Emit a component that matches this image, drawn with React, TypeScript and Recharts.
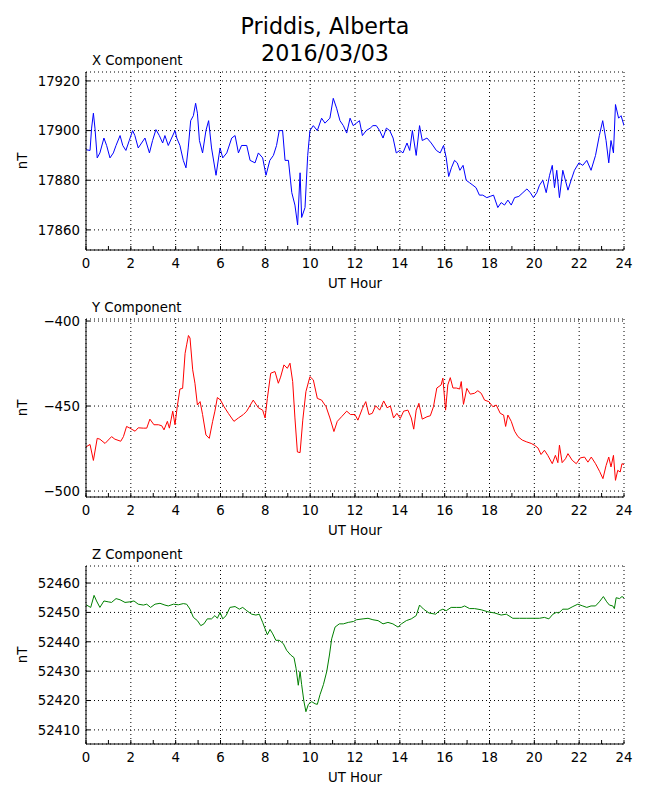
import React from "react";
import { LineChart, Line, XAxis, YAxis, CartesianGrid } from "recharts";

const FONT = "'DejaVu Sans', sans-serif";

// UT hour ticks: minor every hour, labels and grid every two
const hourTicks = Array.from({ length: 25 }, (_, i) => i);
const gridHours = [0, 2, 4, 6, 8, 10, 12, 14, 16, 18, 20, 22, 24];

const xTicks = [17860, 17880, 17900, 17920];
const yTicks = [-500, -450, -400];
const zTicks = [52410, 52420, 52430, 52440, 52450, 52460];

// [UT hour, nT]
const xComponent: [number, number][] = [
  [0, 17892.3], [0.18, 17892], [0.25, 17901], [0.33, 17907], [0.4, 17901], [0.5, 17889], [0.62, 17891],
  [0.8, 17897], [0.92, 17894], [1.07, 17889], [1.22, 17891], [1.34, 17894], [1.52, 17898], [1.64, 17894],
  [1.78, 17892], [1.93, 17896], [2.08, 17900], [2.18, 17898], [2.33, 17893], [2.48, 17895], [2.63, 17897],
  [2.83, 17891], [2.97, 17896], [3.12, 17900.4], [3.27, 17898], [3.42, 17895], [3.52, 17898], [3.67, 17894],
  [3.82, 17897], [3.97, 17900], [4.05, 17897], [4.19, 17894], [4.34, 17888], [4.46, 17885], [4.56, 17893],
  [4.67, 17904], [4.79, 17906], [4.89, 17911], [4.97, 17907], [5.06, 17896], [5.2, 17891], [5.35, 17900],
  [5.47, 17904], [5.6, 17893], [5.8, 17882], [5.98, 17893], [6.1, 17889], [6.28, 17891], [6.5, 17897],
  [6.65, 17898], [6.8, 17891], [6.94, 17894], [7.17, 17894], [7.32, 17888], [7.54, 17887], [7.69, 17891],
  [7.88, 17889], [8.03, 17882], [8.2, 17888], [8.36, 17890], [8.5, 17894], [8.62, 17900], [8.77, 17900],
  [8.88, 17888], [9.03, 17888], [9.18, 17875], [9.32, 17870], [9.44, 17862], [9.55, 17883], [9.62, 17865],
  [9.77, 17869], [9.89, 17890], [9.99, 17900], [10.14, 17902], [10.32, 17900], [10.51, 17905], [10.66, 17903],
  [10.88, 17905], [11.03, 17913], [11.18, 17909], [11.33, 17904], [11.48, 17902], [11.63, 17899], [11.78, 17905],
  [11.92, 17902], [12.06, 17903], [12.2, 17904], [12.33, 17898], [12.5, 17900], [12.68, 17901], [12.8, 17902],
  [12.95, 17902], [13.1, 17900], [13.25, 17897], [13.4, 17901], [13.55, 17900], [13.7, 17897], [13.84, 17891],
  [14.0, 17892], [14.14, 17891], [14.32, 17895], [14.44, 17892], [14.56, 17900], [14.73, 17890], [14.88, 17902],
  [15.0, 17896], [15.21, 17897], [15.4, 17895], [15.63, 17892], [15.8, 17891], [15.95, 17894], [16.07, 17889],
  [16.18, 17881.5], [16.3, 17885], [16.44, 17888], [16.56, 17887], [16.68, 17884], [16.82, 17886], [16.96, 17880],
  [17.11, 17879], [17.26, 17878], [17.4, 17877], [17.55, 17874], [17.7, 17874], [17.88, 17873], [18.03, 17873.5],
  [18.18, 17874], [18.37, 17869], [18.52, 17871], [18.67, 17870], [18.82, 17872], [18.97, 17870], [19.12, 17873],
  [19.31, 17873.5], [19.49, 17875], [19.67, 17876.5], [19.82, 17875], [19.96, 17873], [20.11, 17875], [20.23, 17878],
  [20.38, 17880], [20.53, 17875], [20.68, 17882], [20.8, 17886], [20.9, 17877], [21.0, 17884], [21.12, 17873],
  [21.27, 17884], [21.5, 17876], [21.64, 17880], [21.79, 17884], [21.99, 17887], [22.16, 17886], [22.34, 17888],
  [22.53, 17884], [22.73, 17890], [22.9, 17898], [23.05, 17904], [23.2, 17896], [23.32, 17887], [23.42, 17896],
  [23.53, 17891], [23.62, 17910.5], [23.76, 17905], [23.87, 17906], [24.0, 17902],
];

const yComponent: [number, number][] = [
  [0, -474], [0.18, -472.6], [0.33, -482], [0.5, -469], [0.62, -469.5], [0.85, -472], [1.14, -468],
  [1.29, -469.5], [1.55, -470.7], [1.67, -468], [1.81, -462], [1.96, -463], [2.19, -464.8], [2.33, -462.8],
  [2.56, -463], [2.71, -463], [2.85, -457.7], [3.03, -461], [3.23, -461], [3.38, -461.6], [3.48, -464],
  [3.63, -459], [3.72, -463], [3.87, -453], [3.97, -461], [4.07, -450.4], [4.19, -440], [4.31, -439.6],
  [4.42, -419], [4.49, -414], [4.57, -408.5], [4.64, -410], [4.76, -428.7], [4.86, -436.6], [4.97, -449.4],
  [5.09, -447.4], [5.2, -455], [5.35, -467], [5.5, -469], [5.65, -459], [5.75, -453], [5.86, -445],
  [6.0, -446.5], [6.16, -450.4], [6.35, -454.3], [6.6, -459], [6.8, -457], [7.02, -455], [7.17, -453],
  [7.46, -446.5], [7.69, -451], [7.88, -452.4], [7.99, -457], [8.09, -445.5], [8.24, -430.7], [8.43, -429.7],
  [8.58, -436.6], [8.68, -433], [8.83, -425.8], [8.98, -427.8], [9.1, -424.8], [9.22, -435.6], [9.32, -457],
  [9.43, -477], [9.55, -477.4], [9.67, -458.3], [9.81, -441.5], [9.99, -432.7], [10.14, -434.6], [10.32, -445.5],
  [10.51, -446.5], [10.71, -450.4], [10.88, -457], [11.06, -465], [11.21, -459], [11.4, -456.3], [11.63, -453],
  [11.8, -455], [12.0, -455], [12.13, -458.3], [12.33, -451.4], [12.48, -447.4], [12.62, -455], [12.77, -454.3],
  [12.92, -449.8], [13.1, -452.4], [13.28, -447], [13.43, -451], [13.58, -450], [13.72, -457], [13.87, -454.3],
  [14.02, -457.3], [14.17, -453], [14.36, -452.4], [14.51, -457], [14.62, -463.6], [14.73, -452.4], [14.85, -448.4],
  [15.0, -457.7], [15.21, -456.3], [15.36, -455.7], [15.5, -450.4], [15.65, -439.4], [15.84, -437.6], [15.92, -433.6],
  [16.04, -452.4], [16.14, -437.6], [16.25, -433.3], [16.37, -439.4], [16.52, -439.4], [16.67, -440], [16.74, -435.6],
  [16.84, -449], [16.99, -439.6], [17.14, -443], [17.33, -442.5], [17.48, -441], [17.63, -442.5], [17.78, -446.5],
  [17.97, -447.4], [18.15, -450.4], [18.3, -449.4], [18.48, -454.3], [18.63, -455.3], [18.72, -462], [18.82, -455.3],
  [18.97, -459], [19.12, -464.8], [19.27, -468], [19.46, -470], [19.64, -471], [19.86, -472], [20.0, -473],
  [20.16, -474.6], [20.3, -478.5], [20.45, -476], [20.6, -479], [20.8, -483.9], [20.94, -479], [21.05, -483.3],
  [21.12, -473], [21.24, -483.3], [21.39, -481], [21.5, -478], [21.69, -481.9], [21.87, -483.9], [22.05, -480.5],
  [22.24, -480], [22.39, -483], [22.54, -480], [22.73, -483.9], [22.91, -488.4], [23.06, -492.7], [23.2, -485],
  [23.32, -480], [23.42, -485.8], [23.53, -479], [23.62, -493.7], [23.72, -487.8], [23.83, -488.8], [23.91, -483.9],
  [24.0, -484.4],
];

const zComponent: [number, number][] = [
  [0, 52452.6], [0.21, 52451.7], [0.36, 52455.8], [0.47, 52453.9], [0.62, 52451.7], [0.8, 52453.9], [0.99, 52453.6],
  [1.14, 52453.4], [1.34, 52454.7], [1.52, 52454.3], [1.74, 52453.4], [1.96, 52453.6], [2.14, 52453.9], [2.33, 52452.8],
  [2.56, 52452.5], [2.71, 52452.8], [2.88, 52451.7], [3.08, 52452.8], [3.3, 52453.1], [3.52, 52452.5], [3.67, 52452.2],
  [3.9, 52452.8], [4.12, 52452.6], [4.34, 52453.0], [4.49, 52452.8], [4.64, 52451.1], [4.79, 52448.3], [4.97, 52447.2],
  [5.12, 52445.5], [5.26, 52446.1], [5.41, 52447.8], [5.6, 52447.8], [5.75, 52448.9], [5.86, 52448], [5.98, 52450],
  [6.1, 52447.8], [6.25, 52448.9], [6.42, 52451.7], [6.65, 52452], [6.84, 52451.1], [6.99, 52451.7], [7.17, 52450.6],
  [7.39, 52449.4], [7.58, 52449.1], [7.73, 52449.4], [7.88, 52446.6], [7.99, 52444.4], [8.09, 52442.4], [8.21, 52444.2],
  [8.33, 52442.7], [8.47, 52440.5], [8.62, 52440.5], [8.8, 52439.4], [8.95, 52437.1], [9.13, 52435.5], [9.28, 52434.6],
  [9.37, 52431], [9.47, 52425.2], [9.55, 52429.9], [9.62, 52425.4], [9.72, 52419.8], [9.81, 52416.2], [9.92, 52418.7],
  [10.07, 52419.6], [10.22, 52418.9], [10.32, 52418.7], [10.44, 52422], [10.59, 52425.4], [10.74, 52429.9],
  [10.86, 52435.5], [10.96, 52441], [11.11, 52445], [11.3, 52446.1], [11.48, 52446.1], [11.7, 52446.6],
  [11.93, 52446.9], [12.06, 52447.5], [12.36, 52447.8], [12.58, 52448], [12.8, 52447.5], [13.03, 52447.2],
  [13.25, 52446.1], [13.47, 52446.6], [13.69, 52446.1], [13.92, 52445], [14.07, 52446.1], [14.29, 52447.2],
  [14.51, 52447.8], [14.73, 52448.9], [14.88, 52452.5], [15.06, 52451.1], [15.3, 52449.8], [15.6, 52449.4],
  [15.77, 52450.6], [15.92, 52451.1], [16.07, 52450.6], [16.29, 52451.7], [16.52, 52451.7], [16.74, 52451.7],
  [16.89, 52452.2], [17.11, 52451.3], [17.33, 52451.3], [17.63, 52450.9], [17.93, 52450.2], [18.23, 52449.8],
  [18.52, 52449.1], [18.75, 52449.4], [19.04, 52448], [19.34, 52448], [19.64, 52448], [19.94, 52448],
  [20.23, 52448], [20.45, 52448.3], [20.65, 52447.8], [20.83, 52449.4], [20.98, 52450], [21.09, 52449.8],
  [21.27, 52451.1], [21.5, 52451.1], [21.72, 52452], [21.94, 52452.8], [22.16, 52452.2], [22.34, 52451.7],
  [22.53, 52452.2], [22.73, 52452.2], [22.9, 52453.6], [23.08, 52455.4], [23.23, 52453.6], [23.35, 52452.5],
  [23.5, 52452.2], [23.57, 52451.3], [23.65, 52455], [23.8, 52454.7], [23.91, 52455.4], [24.0, 52455],
];

const PLOT_LEFT = 86;
const PLOT_WIDTH = 538;

const fmt = (v: number) => (v < 0 ? "\u2212" + Math.abs(v) : String(v));
const tickStyle = { fill: "#000", fontSize: 13.3, fontFamily: FONT };
const gridX = gridHours.map((h) => PLOT_LEFT + (h / 24) * PLOT_WIDTH);

function Panel({ series, domain, ticks, color, top }: any) {
  const data = series.map(([h, v]: [number, number]) => ({ h, v }));
  return (
    <div style={{ position: "absolute", left: 0, top }}>
      <LineChart width={650} height={300} data={data} margin={{ top: 72, right: 26, bottom: 0, left: 26 }}>
        <CartesianGrid stroke="#000" strokeDasharray="1 3" verticalPoints={gridX} />
        <XAxis
          dataKey="h"
          type="number"
          domain={[0, 24]}
          ticks={hourTicks}
          interval={0}
          allowDataOverflow
          height={50}
          stroke="#000"
          tickSize={-4}
          tickMargin={13}
          tick={tickStyle}
          tickFormatter={(h: number) => (h % 2 === 0 ? String(h) : "")}
        />
        <XAxis
          xAxisId="top"
          orientation="top"
          type="number"
          domain={[0, 24]}
          ticks={hourTicks}
          interval={0}
          height={0}
          stroke="#000"
          tickSize={-4}
          tick={false}
        />
        <YAxis
          type="number"
          domain={domain}
          ticks={ticks}
          interval={0}
          allowDataOverflow
          width={60}
          stroke="#000"
          tickSize={-4}
          tickMargin={10}
          tick={tickStyle}
          tickFormatter={fmt}
        />
        <YAxis
          yAxisId="right"
          orientation="right"
          type="number"
          domain={domain}
          ticks={ticks}
          interval={0}
          allowDataOverflow
          width={0}
          stroke="#000"
          tickSize={-4}
          tick={false}
        />
        <Line
          dataKey="v"
          type="linear"
          stroke={color}
          strokeWidth={1}
          dot={false}
          isAnimationActive={false}
        />
      </LineChart>
    </div>
  );
}

const panels = [
  { title: "X Component", series: xComponent, domain: [17851.9, 17923.6], ticks: xTicks, color: "#0000ff" },
  { title: "Y Component", series: yComponent, domain: [-503.5, -398.8], ticks: yTicks, color: "#ff0000" },
  { title: "Z Component", series: zComponent, domain: [52405.2, 52465.8], ticks: zTicks, color: "#008000" },
];

export default function App() {
  return (
    <div style={{ position: "absolute", left: 0, top: 0, width: 650, height: 800, background: "#fff" }}>
      {panels.map((p, i) => (
        <Panel key={p.title} series={p.series} domain={p.domain} ticks={p.ticks} color={p.color} top={i * 247} />
      ))}
      <svg
        width={650}
        height={800}
        style={{ position: "absolute", left: 0, top: 0, pointerEvents: "none" }}
        fontFamily={FONT}
      >
        <text x={325} y={34} textAnchor="middle" fontSize={22.2}>Priddis, Alberta</text>
        <text x={325} y={61} textAnchor="middle" fontSize={22.2}>2016/03/03</text>
        {panels.map((p, i) => (
          <g key={p.title}>
            <text x={92} y={65 + i * 247} fontSize={13.3}>{p.title}</text>
            <text x={355} y={288 + i * 247} textAnchor="middle" fontSize={13.3}>UT Hour</text>
            <text
              x={22}
              y={161 + i * 247}
              textAnchor="middle"
              dominantBaseline="central"
              fontSize={13.3}
              transform={`rotate(-90 22 ${161 + i * 247})`}
            >
              nT
            </text>
          </g>
        ))}
      </svg>
    </div>
  );
}
